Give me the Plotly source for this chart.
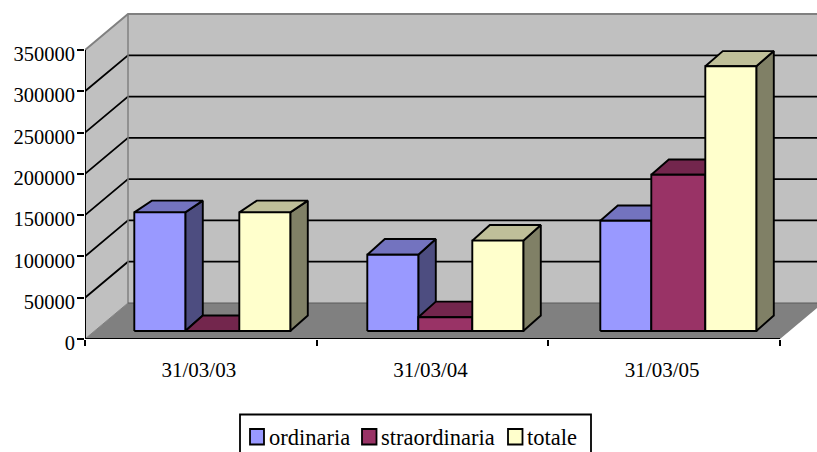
import plotly.graph_objects as go

# ---- data ----
categories = ["31/03/03", "31/03/04", "31/03/05"]
ordinaria = [143700, 92400, 133600]
straordinaria = [0, 16600, 189300]
totale = [143700, 109400, 320600]
series_names = ["ordinaria", "straordinaria", "totale"]
y_ticks = [0, 50000, 100000, 150000, 200000, 250000, 300000, 350000]

# ---- styles ----
front_colors = ["#9999FF", "#993366", "#FFFFCC"]
top_colors = ["#7373BF", "#73264D", "#BFBF99"]
side_colors = ["#4D4D80", "#4D1A33", "#808066"]
WALL = "#C0C0C0"
FLOOR = "#808080"
FONT = "Liberation Serif"

# ---- layout geometry (pixels) ----
W, H = 817, 452
LEFT, AXIS_R = 85, 780
Y0, Y_MAX_PX = 339, 50
TOP_PX = 6
PX_PER_CAT = (AXIS_R - LEFT) / len(categories)
PX_PER_VAL = (Y0 - Y_MAX_PX) / y_ticks[-1]
X_TOP = (W - LEFT) / PX_PER_CAT
Y_TOP = (Y0 - TOP_PX) / PX_PER_VAL
DEPTH_X, DEPTH_Y = 43, 36      # wall depth
BAR_X0, BAR_DY = 134.3, 8      # first bar left edge, bar offset from the front plane
GROUP_PX = 233                 # spacing of the bar groups
BAR_DEPTH_X, BAR_DEPTH_Y = 17.5, 15.5
TOP_DEPTH_Y = [11.7, 15.7, 15.2]   # apparent rise of the top face, per group
BAR_WIDTHS = [51, 54, 51]          # pixel widths per series
LW = 1.9


def ox(px):
    return px / PX_PER_CAT


def oy(px):
    return px / PX_PER_VAL


fig = go.Figure()


def poly(xs, ys, fill=None, line="black", width=LW):
    closed = fill is not None
    fig.add_trace(go.Scatter(
        x=xs + xs[:1] if closed else xs,
        y=ys + ys[:1] if closed else ys,
        mode="lines",
        fill="toself" if closed else None,
        fillcolor=fill,
        line=dict(color=line if line else "rgba(0,0,0,0)", width=width),
        hoverinfo="skip", showlegend=False, cliponaxis=False,
    ))


n = len(categories)
ymax = y_ticks[-1]
dx, dy = ox(DEPTH_X), oy(DEPTH_Y)
x_end = X_TOP + 0.3

# back wall and left wall
poly([dx, x_end, x_end, dx], [dy, dy, dy + ymax, dy + ymax], fill=WALL, line=None, width=0)
poly([0, dx, dx, 0], [0, dy, dy + ymax, ymax], fill=WALL, line=None, width=0)
# floor
poly([0, n, n + dx, dx], [0, 0, dy, dy], fill=FLOOR, line=None, width=0)

# gridlines
for v in y_ticks[1:-1]:
    poly([0, dx, x_end], [v, v + dy, v + dy], line="black", width=1.8)

# wall edges
poly([0, dx, x_end], [ymax, ymax + dy, ymax + dy], line="#808080", width=2)
poly([dx, dx], [dy, dy + ymax], line="#808080", width=1.5)
poly([0, dx], [0, dy], line="#808080", width=1)
poly([dx, x_end], [dy, dy], line="#5A5A5A", width=1)

# bars
all_values = [ordinaria, straordinaria, totale]
by = oy(BAR_DY)
bdx, bdy = ox(BAR_DEPTH_X), oy(BAR_DEPTH_Y)
for c in range(n):
    x1 = ox(BAR_X0 - LEFT + c * GROUP_PX)
    tdy = oy(TOP_DEPTH_Y[c])
    for s, values in enumerate(all_values):
        v = values[c]
        x0 = x1
        x1 = x0 + ox(BAR_WIDTHS[s])
        poly([x1, x1 + bdx, x1 + bdx, x1],
             [by, by + bdy, by + tdy + v, by + v], fill=side_colors[s])
        poly([x0, x1, x1 + bdx, x0 + bdx],
             [by + v, by + v, by + v + (bdy if v == 0 else tdy), by + v + (bdy if v == 0 else tdy)],
             fill=top_colors[s])
        if v > 0:
            poly([x0, x1, x1, x0], [by, by, by + v, by + v], fill=front_colors[s])
        else:
            poly([x0, x1], [by, by], line="black")

# axis lines
poly([0, n], [0, 0], line="black", width=2)
poly([0, 0], [0, ymax], line="black", width=2)

fig.update_layout(
    width=W, height=H,
    margin=dict(l=LEFT, r=0, t=TOP_PX, b=H - Y0, pad=0, autoexpand=False),
    paper_bgcolor="white", plot_bgcolor="white",
    showlegend=False,
    font=dict(family=FONT, color="black", size=20),
    xaxis=dict(
        range=[0, X_TOP], showgrid=False, zeroline=False, showline=False,
        tickmode="array", tickvals=[i + 0.5 for i in range(n)], ticktext=categories,
        ticks="outside", ticklen=12, tickcolor="rgba(0,0,0,0)", tickwidth=1,
        ticklabelshift=-2,
        tickfont=dict(family=FONT, size=21, color="black"),
        minor=dict(tickmode="array", tickvals=list(range(n + 1)), ticks="outside",
                   ticklen=6, tickwidth=1.5, tickcolor="black", showgrid=False),
    ),
    yaxis=dict(
        range=[0, Y_TOP], showgrid=False, zeroline=False, showline=False,
        tickmode="array", tickvals=y_ticks, ticktext=[str(v) for v in y_ticks],
        ticks="outside", ticklen=7, tickwidth=1.5, tickcolor="black",
        ticklabelshift=4, ticklabelstandoff=-2,
        tickfont=dict(family=FONT, size=20.5, color="black"),
    ),
)


# ---- legend ----
def px_x(px):
    return (px - LEFT) / (W - LEFT)


def px_y(px):
    return (Y0 - px) / (Y0 - TOP_PX)


fig.add_shape(type="rect", xref="paper", yref="paper",
              x0=px_x(240), x1=px_x(591), y0=px_y(414.5), y1=px_y(470),
              line=dict(color="black", width=1.8), fillcolor="white")
swatches = [(250, 264, 268.5), (362, 376.5, 380.5), (508, 522.5, 526.5)]
for (a, b, t), name, col in zip(swatches, series_names, front_colors):
    fig.add_shape(type="rect", xref="paper", yref="paper",
                  x0=px_x(a), x1=px_x(b), y0=px_y(429), y1=px_y(444.5),
                  line=dict(color="black", width=1.8), fillcolor=col)
    fig.add_annotation(xref="paper", yref="paper", x=px_x(t), y=px_y(437),
                       text=name, showarrow=False, xanchor="left", yanchor="middle",
                       borderpad=0, borderwidth=0,
                       font=dict(family=FONT, size=22.5, color="black"))

fig.write_html("out.html", config={"displayModeBar": False},
               post_script="document.body.style.margin='0';document.body.style.overflow='hidden';")
